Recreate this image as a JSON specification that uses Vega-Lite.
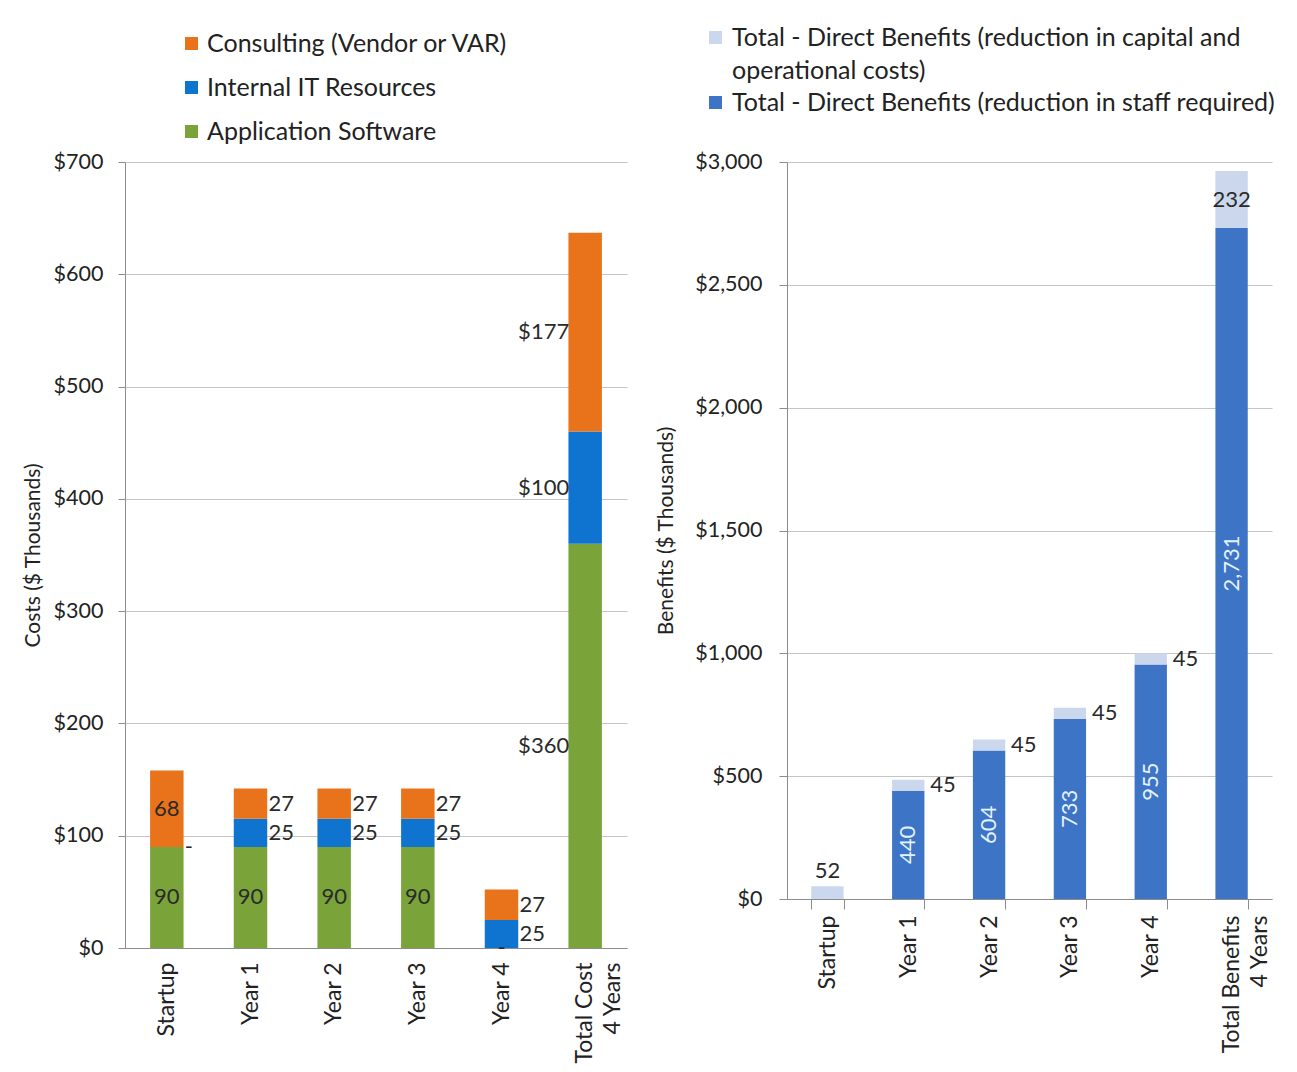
{
  "$schema": "https://vega.github.io/schema/vega-lite/v6.json",
  "background": "white",
  "padding": {"left": 22, "top": 25, "right": 10, "bottom": 5},
  "spacing": 28,
  "datasets": {
    "costs": [
      {"period": "Startup", "component": "Application Software", "value": 90},
      {"period": "Startup", "component": "Internal IT Resources", "value": 0},
      {"period": "Startup", "component": "Consulting (Vendor or VAR)", "value": 68},
      {"period": "Year 1", "component": "Application Software", "value": 90},
      {"period": "Year 1", "component": "Internal IT Resources", "value": 25},
      {"period": "Year 1", "component": "Consulting (Vendor or VAR)", "value": 27},
      {"period": "Year 2", "component": "Application Software", "value": 90},
      {"period": "Year 2", "component": "Internal IT Resources", "value": 25},
      {"period": "Year 2", "component": "Consulting (Vendor or VAR)", "value": 27},
      {"period": "Year 3", "component": "Application Software", "value": 90},
      {"period": "Year 3", "component": "Internal IT Resources", "value": 25},
      {"period": "Year 3", "component": "Consulting (Vendor or VAR)", "value": 27},
      {"period": "Year 4", "component": "Application Software", "value": 0},
      {"period": "Year 4", "component": "Internal IT Resources", "value": 25},
      {"period": "Year 4", "component": "Consulting (Vendor or VAR)", "value": 27},
      {"period": "Total Cost 4 Years", "component": "Application Software", "value": 360},
      {"period": "Total Cost 4 Years", "component": "Internal IT Resources", "value": 100},
      {"period": "Total Cost 4 Years", "component": "Consulting (Vendor or VAR)", "value": 177}
    ],
    "benefits": [
      {"period": "Startup", "component": "Total - Direct Benefits (reduction in staff required)", "value": 0},
      {"period": "Startup", "component": "Total - Direct Benefits (reduction in capital and operational costs)", "value": 52},
      {"period": "Year 1", "component": "Total - Direct Benefits (reduction in staff required)", "value": 440},
      {"period": "Year 1", "component": "Total - Direct Benefits (reduction in capital and operational costs)", "value": 45},
      {"period": "Year 2", "component": "Total - Direct Benefits (reduction in staff required)", "value": 604},
      {"period": "Year 2", "component": "Total - Direct Benefits (reduction in capital and operational costs)", "value": 45},
      {"period": "Year 3", "component": "Total - Direct Benefits (reduction in staff required)", "value": 733},
      {"period": "Year 3", "component": "Total - Direct Benefits (reduction in capital and operational costs)", "value": 45},
      {"period": "Year 4", "component": "Total - Direct Benefits (reduction in staff required)", "value": 955},
      {"period": "Year 4", "component": "Total - Direct Benefits (reduction in capital and operational costs)", "value": 45},
      {"period": "Total Benefits 4 Years", "component": "Total - Direct Benefits (reduction in staff required)", "value": 2731},
      {"period": "Total Benefits 4 Years", "component": "Total - Direct Benefits (reduction in capital and operational costs)", "value": 232}
    ]
  },
  "hconcat": [
    {
      "width": 502,
      "height": 786,
      "data": {"name": "costs"},
      "transform": [
        {"calculate": "indexof(['Application Software', 'Internal IT Resources', 'Consulting (Vendor or VAR)'], datum.component)", "as": "ord"},
        {"stack": "value", "groupby": ["period"], "sort": [{"field": "ord", "order": "ascending"}], "as": ["v0", "v1"]},
        {"calculate": "(datum.v0 + datum.v1) / 2", "as": "mid"},
        {"calculate": "datum.value > 0 ? format(datum.value, ',') : '-'", "as": "lbl"}
      ],
      "encoding": {
        "x": {
          "field": "period",
          "type": "nominal",
          "sort": ["Startup", "Year 1", "Year 2", "Year 3", "Year 4", "Total Cost 4 Years"],
          "scale": {"paddingInner": 0.6, "paddingOuter": 0.3},
          "axis": {
            "title": null,
            "labelAngle": -90,
            "labelFontSize": 23,
            "labelLineHeight": 28,
            "ticks": false,
            "labelPadding": 14,
            "labelExpr": "datum.value == 'Total Cost 4 Years' ? ['Total Cost', '4 Years'] : datum.value"
          }
        }
      },
      "layer": [
        {
          "mark": {"type": "bar"},
          "encoding": {
            "y": {
              "field": "v1",
              "type": "quantitative",
              "scale": {"domain": [0, 700], "nice": false},
              "axis": {
                "title": "Costs ($ Thousands)",
                "format": "$,.0f",
                "values": [0, 100, 200, 300, 400, 500, 600, 700],
                "labelFontSize": 21.5,
                "titleFontSize": 21,
                "titleFontWeight": "normal",
                "tickSize": 7,
                "labelPadding": 15,
                "titlePadding": 10
              }
            },
            "y2": {"field": "v0"},
            "color": {
              "field": "component",
              "type": "nominal",
              "scale": {
                "domain": ["Consulting (Vendor or VAR)", "Internal IT Resources", "Application Software"],
                "range": ["#E8731A", "#0F74CF", "#7AA43A"]
              },
              "legend": {
                "title": null,
                "orient": "none",
                "legendX": 54,
                "legendY": -131,
                "direction": "vertical",
                "labelFontSize": 25,
                "symbolType": "square",
                "symbolSize": 170,
                "rowPadding": 18,
                "labelOffset": 3,
                "labelLimit": 500
              }
            }
          }
        },
        {
          "transform": [
            {"filter": "datum.period != 'Total Cost 4 Years' && (datum.component == 'Application Software' || (datum.period == 'Startup' && datum.component == 'Consulting (Vendor or VAR)'))"}
          ],
          "mark": {"type": "text", "fontSize": 22, "color": "#2a2a2a", "align": "center", "baseline": "middle"},
          "encoding": {
            "y": {"field": "mid", "type": "quantitative"},
            "text": {"field": "lbl"}
          }
        },
        {
          "transform": [
            {"filter": "datum.period != 'Total Cost 4 Years' && datum.component != 'Application Software' && !(datum.period == 'Startup' && datum.component == 'Consulting (Vendor or VAR)')"}
          ],
          "mark": {"type": "text", "fontSize": 22, "color": "#2a2a2a", "align": "left", "baseline": "middle", "dx": 18},
          "encoding": {
            "y": {"field": "mid", "type": "quantitative"},
            "text": {"field": "lbl"}
          }
        },
        {
          "transform": [
            {"filter": "datum.period == 'Total Cost 4 Years'"},
            {"calculate": "'$' + format(datum.value, ',')", "as": "dlbl"}
          ],
          "mark": {"type": "text", "fontSize": 22, "color": "#2a2a2a", "align": "right", "baseline": "middle", "dx": -16},
          "encoding": {
            "y": {"field": "mid", "type": "quantitative"},
            "text": {"field": "dlbl"}
          }
        }
      ]
    },
    {
      "width": 485,
      "height": 737,
      "data": {"name": "benefits"},
      "transform": [
        {"calculate": "indexof(['Total - Direct Benefits (reduction in staff required)', 'Total - Direct Benefits (reduction in capital and operational costs)'], datum.component)", "as": "ord"},
        {"stack": "value", "groupby": ["period"], "sort": [{"field": "ord", "order": "ascending"}], "as": ["v0", "v1"]},
        {"calculate": "(datum.v0 + datum.v1) / 2", "as": "mid"},
        {"calculate": "format(datum.value, ',')", "as": "lbl"}
      ],
      "encoding": {
        "x": {
          "field": "period",
          "type": "nominal",
          "sort": ["Startup", "Year 1", "Year 2", "Year 3", "Year 4", "Total Benefits 4 Years"],
          "scale": {"paddingInner": 0.6, "paddingOuter": 0.3},
          "axis": {
            "title": null,
            "labelAngle": -90,
            "labelFontSize": 23,
            "labelLineHeight": 28,
            "ticks": true,
            "tickBand": "extent",
            "tickSize": 10,
            "labelPadding": 6,
            "labelExpr": "datum.value == 'Total Benefits 4 Years' ? ['Total Benefits', '4 Years'] : datum.value"
          }
        }
      },
      "layer": [
        {
          "mark": {"type": "bar"},
          "encoding": {
            "y": {
              "field": "v1",
              "type": "quantitative",
              "scale": {"domain": [0, 3000], "nice": false},
              "axis": {
                "title": "Benefits ($ Thousands)",
                "format": "$,.0f",
                "values": [0, 500, 1000, 1500, 2000, 2500, 3000],
                "labelFontSize": 21.5,
                "titleFontSize": 21,
                "titleFontWeight": "normal",
                "tickSize": 8,
                "labelPadding": 17,
                "titlePadding": 18
              }
            },
            "y2": {"field": "v0"},
            "color": {
              "field": "component",
              "type": "nominal",
              "scale": {
                "domain": ["Total - Direct Benefits (reduction in capital and operational costs)", "Total - Direct Benefits (reduction in staff required)"],
                "range": ["#CBD7EC", "#3E74C6"]
              },
              "legend": {
                "title": null,
                "orient": "none",
                "legendX": -84,
                "legendY": -137,
                "direction": "vertical",
                "labelFontSize": 25,
                "symbolType": "square",
                "symbolSize": 170,
                "rowPadding": 6,
                "labelOffset": 4,
                "labelLimit": 700,
                "labelExpr": "datum.label == 'Total - Direct Benefits (reduction in capital and operational costs)' ? ['Total - Direct Benefits (reduction in capital and', 'operational costs)'] : datum.label",
                "encode": {
                  "labels": {
                    "update": {
                      "lineHeight": {"value": 33}
                    }
                  }
                }
              }
            }
          }
        },
        {
          "transform": [
            {"filter": "datum.component == 'Total - Direct Benefits (reduction in staff required)' && datum.value > 0"}
          ],
          "mark": {"type": "text", "fontSize": 22, "color": "#E4F2FF", "angle": 270, "align": "center", "baseline": "middle"},
          "encoding": {
            "y": {"field": "mid", "type": "quantitative"},
            "text": {"field": "lbl"}
          }
        },
        {
          "transform": [
            {"filter": "datum.component == 'Total - Direct Benefits (reduction in capital and operational costs)' && datum.period != 'Startup' && datum.period != 'Total Benefits 4 Years'"}
          ],
          "mark": {"type": "text", "fontSize": 22, "color": "#2a2a2a", "align": "left", "baseline": "middle", "dx": 22},
          "encoding": {
            "y": {"field": "mid", "type": "quantitative"},
            "text": {"field": "lbl"}
          }
        },
        {
          "transform": [
            {"filter": "datum.component == 'Total - Direct Benefits (reduction in capital and operational costs)' && datum.period == 'Total Benefits 4 Years'"}
          ],
          "mark": {"type": "text", "fontSize": 22, "color": "#2a2a2a", "align": "center", "baseline": "middle"},
          "encoding": {
            "y": {"field": "mid", "type": "quantitative"},
            "text": {"field": "lbl"}
          }
        },
        {
          "transform": [
            {"filter": "datum.component == 'Total - Direct Benefits (reduction in capital and operational costs)' && datum.period == 'Startup'"}
          ],
          "mark": {"type": "text", "fontSize": 22, "color": "#2a2a2a", "align": "center", "baseline": "bottom", "dy": -3},
          "encoding": {
            "y": {"field": "v1", "type": "quantitative"},
            "text": {"field": "lbl"}
          }
        }
      ]
    }
  ],
  "resolve": {"scale": {"color": "independent"}, "legend": {"color": "independent"}},
  "config": {
    "font": "Lato",
    "view": {"stroke": null},
    "axis": {
      "labelColor": "#222222",
      "titleColor": "#222222",
      "gridColor": "#C4C4C4",
      "domainColor": "#8C8C8C",
      "tickColor": "#8C8C8C",
      "labelFont": "Lato",
      "titleFont": "Lato"
    },
    "legend": {"labelColor": "#222222", "labelFont": "Lato"}
  }
}
